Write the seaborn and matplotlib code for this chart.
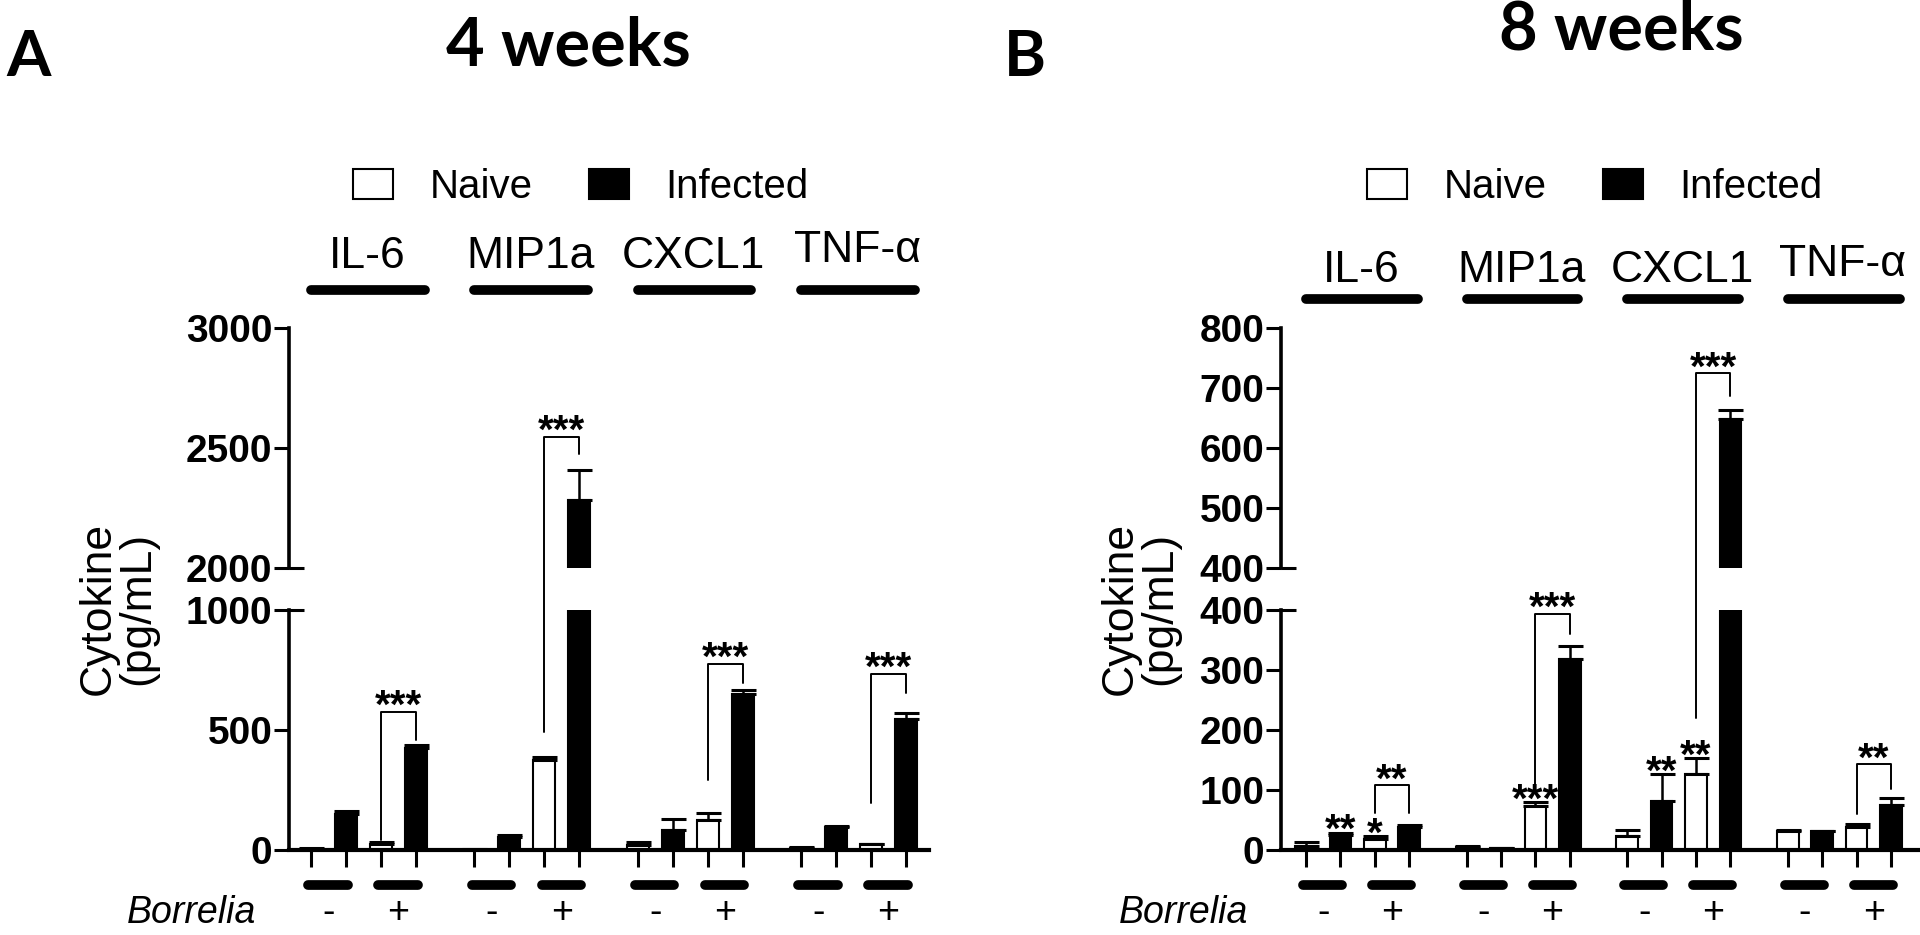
import numpy as np
import pandas as pd
import seaborn as sns
import matplotlib.pyplot as plt
from matplotlib.lines import Line2D
from matplotlib.patches import Patch

sns.set_theme(style='ticks')
plt.rcParams['font.family'] = ['Liberation Sans', 'DejaVu Sans']
plt.rcParams['text.color'] = 'black'
plt.rcParams['axes.edgecolor'] = 'black'
plt.rcParams['xtick.color'] = 'black'
plt.rcParams['ytick.color'] = 'black'
plt.rcParams['axes.labelcolor'] = 'black'

W, H = 1920, 935

# ---- data ----
cytokines = ['IL-6', 'MIP1a', 'CXCL1', 'TNF-α']
bar_status = ['Naive', 'Infected', 'Naive', 'Infected']
borrelia_signs = ['-', '+']

# order in each cytokine: naive -, infected -, naive +, infected +
mean_4wk = [5, 150, 24, 424, 2, 56, 375, 2282, 21, 83, 126, 649, 8, 95, 24, 546]
sem_4wk = [3, 14, 8, 12, 1, 5, 14, 125, 11, 45, 30, 18, 3, 6, 2, 23]
mean_8wk = [6, 25, 18, 38, 5, 3, 74, 318, 24, 82, 127, 648, 31, 31, 38, 75]
sem_8wk = [8, 4, 5, 4, 1, 1, 6, 22, 9, 45, 26, 15, 2, 1, 5, 11]

# brackets naive+ vs infected+ (left leg end, right leg end, top)
br_4wk_left = [40, 493, 292, 194]
br_4wk_right = [458, 2475, 694, 655]
br_4wk_top = [576, 2547, 776, 735]
br_4wk_stars = ['***', '***', '***', '***']
br_8wk_left = [62, 110, 220, 60]
br_8wk_right = [62, 360, 686, 102]
br_8wk_top = [108, 394, 725, 143]
br_8wk_stars = ['**', '***', '***', '**']
# stars over single bars (8 weeks)
single_8wk_bar = [1, 2, 6, 9, 10]
single_8wk_stars = ['**', '*', '***', '**', '**']

GROUP_STEP = 4.67
pos = [g * GROUP_STEP + i for g in range(4) for i in range(4)]


def fx(px):
    return px / W


def fy(py):
    return 1 - py / H


fig = plt.figure(figsize=(W / 100, H / 100), dpi=100)


def panel(left, right, first_bar, last_bar, lo_lim, hi_lim, lo_ticks, hi_ticks,
          means, sems, label_y, line_y):
    lo = fig.add_axes([fx(left), fy(850), (right - left) / W, 240 / H])
    hi = fig.add_axes([fx(left), fy(568), (right - left) / W, 240 / H])
    s = (last_bar - first_bar) / (pos[-1] - pos[0])
    xlim = (pos[0] - (first_bar - left) / s, pos[-1] + (right - last_bar) / s)
    df = pd.DataFrame({'pos': pos, 'value': means, 'status': bar_status * 4})
    for ax, lim, ticks in ((lo, lo_lim, lo_ticks), (hi, hi_lim, hi_ticks)):
        sns.barplot(data=df, x='pos', y='value', hue='status',
                    hue_order=['Naive', 'Infected'],
                    palette={'Naive': 'white', 'Infected': 'black'},
                    native_scale=True, dodge=False, width=0.63, orient='x',
                    edgecolor='black', linewidth=1.5, errorbar=None,
                    saturation=1, legend=False, ax=ax)
        ax.errorbar(pos, means, yerr=[np.zeros(len(sems)), sems], fmt='none',
                    ecolor='black', elinewidth=1.8, capsize=9, capthick=2.2)
        ax.set_xlim(xlim)
        ax.set_ylim(lim)
        ax.set_yticks(ticks, labels=[str(t) for t in ticks],
                      fontsize=28, fontweight='bold')
        ax.set_xlabel('')
        ax.set_ylabel('')
        ax.tick_params(axis='y', length=11, width=2.2, direction='out',
                       pad=1, color='black')
        for sp in ('top', 'right'):
            ax.spines[sp].set_visible(False)
        ax.spines['left'].set_linewidth(2.6)
        ax.spines['bottom'].set_linewidth(3.0)
        ax.patch.set_alpha(0)

    hi.spines['bottom'].set_visible(False)
    hi.set_xticks([])
    lo.set_xticks(pos, labels=[''] * len(pos))
    lo.tick_params(axis='x', length=12, width=2.2, direction='out', color='black')

    # break marks that cross the axis
    inner = 15 / (right - left)
    lo.plot([0, inner], [lo_lim[1]] * 2, transform=lo.get_yaxis_transform(),
            clip_on=False, color='black', lw=2.2, solid_capstyle='butt')
    hi.plot([0, inner], [hi_lim[0]] * 2, transform=hi.get_yaxis_transform(),
            clip_on=False, color='black', lw=2.2, solid_capstyle='butt')

    # Borrelia pairs under the axis
    for g in range(4):
        for p in range(2):
            a = pos[g * 4 + 2 * p]
            b = pos[g * 4 + 2 * p + 1]
            lo.plot([a - 0.08, b + 0.05], [-35 / 240] * 2,
                    transform=lo.get_xaxis_transform(), clip_on=False,
                    color='black', lw=7, solid_capstyle='round')
            lo.text((a + b) / 2, -63 / 240, borrelia_signs[p],
                    transform=lo.get_xaxis_transform(), ha='center',
                    va='center', fontsize=27)
    lo.text(-33 / (right - left), -63 / 240, 'Borrelia', transform=lo.transAxes,
            ha='right', va='center', fontsize=27, style='italic')

    # cytokine names over thick lines
    for g, name in enumerate(cytokines):
        a = pos[g * 4]
        b = pos[g * 4 + 3]
        hi.plot([a, b + 0.25], [1 + (328 - line_y) / 240] * 2,
                transform=hi.get_xaxis_transform(), clip_on=False,
                color='black', lw=7, solid_capstyle='round')
        nudge = 6 if name == 'TNF-α' else 0
        hi.text(a + 1.6, 1 + (328 - label_y + nudge) / 240, name,
                transform=hi.get_xaxis_transform(), ha='center', va='center',
                fontsize=32)
    return lo, hi


lo_a, hi_a = panel(289, 929, 311, 906, (0, 1000), (2000, 3000),
                   [0, 500, 1000], [2000, 2500, 3000], mean_4wk, sem_4wk, 257, 290)
lo_b, hi_b = panel(1281, 1918, 1306, 1891, (0, 400), (400, 800),
                   [0, 100, 200, 300, 400], [400, 500, 600, 700, 800],
                   mean_8wk, sem_8wk, 271, 299)

inv = fig.transFigure.inverted()


def to_fig(lo, hi, x, v):
    ax = hi if v > lo.get_ylim()[1] else lo
    return inv.transform(ax.transData.transform((x, v)))


def bracket(lo, hi, g, yl, yr, top, stars):
    xa = pos[g * 4 + 2]
    xb = pos[g * 4 + 3]
    p = [to_fig(lo, hi, xa, yl), to_fig(lo, hi, xa, top),
         to_fig(lo, hi, xb, top), to_fig(lo, hi, xb, yr)]
    fig.add_artist(Line2D([q[0] for q in p], [q[1] for q in p],
                          transform=fig.transFigure, color='black', lw=1.4))
    cx = (p[1][0] + p[2][0]) / 2
    fig.text(cx, p[1][1] - 6.5 / H, stars, ha='center', va='baseline',
             fontsize=29, fontweight='bold')


for g in range(4):
    bracket(lo_a, hi_a, g, br_4wk_left[g], br_4wk_right[g], br_4wk_top[g], br_4wk_stars[g])
    bracket(lo_b, hi_b, g, br_8wk_left[g], br_8wk_right[g], br_8wk_top[g], br_8wk_stars[g])

for i, st in zip(single_8wk_bar, single_8wk_stars):
    q = to_fig(lo_b, hi_b, pos[i], mean_8wk[i] + sem_8wk[i])
    fig.text(q[0], q[1] - 9.5 / H, st, ha='center', va='baseline',
             fontsize=29, fontweight='bold')

# legends
handles = [Patch(facecolor='white', edgecolor='black', lw=1.5, label='Naive'),
           Patch(facecolor='black', edgecolor='black', lw=1.5, label='Infected')]
for cx in (581, 1595):
    fig.legend(handles=handles, loc='center', bbox_to_anchor=(fx(cx), fy(187)),
               ncol=2, frameon=False, fontsize=29, handlelength=1.0,
               handleheight=0.75, handletextpad=0.9, columnspacing=1.4,
               borderpad=0, borderaxespad=0)

# y labels
for cx in (118, 1140):
    fig.text(fx(cx), fy(608), 'Cytokine\n(pg/mL)', rotation=90, ha='center',
             va='center', fontsize=32, linespacing=0.95)

# titles and panel letters
title_font = ['Lato', 'DejaVu Sans']
fig.text(fx(568), fy(46), '4 weeks', ha='center', va='center', fontsize=48,
         fontweight='bold', family=title_font)
fig.text(fx(1621), fy(31), '8 weeks', ha='center', va='center', fontsize=48,
         fontweight='bold', family=title_font)
fig.text(fx(29), fy(57), 'A', ha='center', va='center', fontsize=46,
         fontweight='bold', family=title_font)
fig.text(fx(1025), fy(57), 'B', ha='center', va='center', fontsize=46,
         fontweight='bold', family=title_font)

fig.savefig('out.png', dpi=100, facecolor='white')
